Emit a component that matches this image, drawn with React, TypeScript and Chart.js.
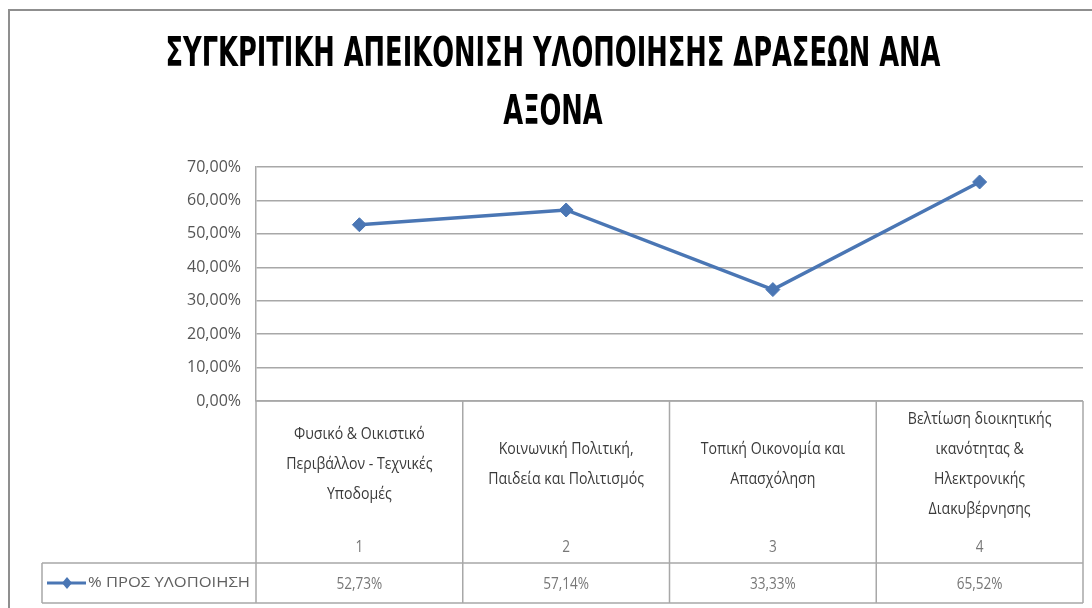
import React, { useEffect, useRef } from "react";
import { Chart, registerables } from "chart.js";

Chart.register(...registerables);

const TITLE_LINES = ["ΣΥΓΚΡΙΤΙΚΗ ΑΠΕΙΚΟΝΙΣΗ ΥΛΟΠΟΙΗΣΗΣ ΔΡΑΣΕΩΝ ΑΝΑ", "ΑΞΟΝΑ"];
const CATEGORY_NAMES: string[][] = [
  ["Φυσικό & Οικιστικό", "Περιβάλλον - Τεχνικές", "Υποδομές"],
  ["Κοινωνική Πολιτική,", "Παιδεία και Πολιτισμός"],
  ["Τοπική Οικονομία και", "Απασχόληση"],
  ["Βελτίωση διοικητικής", "ικανότητας &", "Ηλεκτρονικής", "Διακυβέρνησης"],
];
const CATEGORY_NUMBERS = ["1", "2", "3", "4"];
const SERIES_NAME = "% ΠΡΟΣ ΥΛΟΠΟΙΗΣΗ";
const VALUES = [52.73, 57.14, 33.33, 65.52];
const Y_MIN = 0;
const Y_MAX = 70;
const Y_STEP = 10;

const LINE_COLOR = "#4a76b4";
const GRID_COLOR = "#a8a8a8";
const FONT = "'Open Sans', 'Liberation Sans', sans-serif";

const fmt = (v: number) => v.toFixed(2).replace(".", ",") + "%";

function drawScaled(
  ctx: CanvasRenderingContext2D,
  text: string,
  x: number,
  y: number,
  font: string,
  color: string,
  sx: number,
  align: CanvasTextAlign = "center"
) {
  ctx.save();
  ctx.font = font;
  ctx.fillStyle = color;
  ctx.textBaseline = "middle";
  ctx.textAlign = align;
  ctx.translate(x, y);
  ctx.scale(sx, 1);
  ctx.fillText(text, 0, 0);
  ctx.restore();
}

const decorPlugin = {
  id: "decor",
  afterDraw(chart: any) {
    const ctx: CanvasRenderingContext2D = chart.ctx;
    const ca = chart.chartArea;
    const n = VALUES.length;
    const colW = (ca.right - ca.left) / n;
    const valTop = 563;
    const tableBottom = 603;
    const legendLeft = 42;

    // outer frame
    ctx.save();
    ctx.strokeStyle = "#8f8f8f";
    ctx.lineWidth = 2;
    ctx.beginPath();
    ctx.moveTo(9, 608);
    ctx.lineTo(9, 10);
    ctx.lineTo(1092, 10);
    ctx.stroke();
    ctx.restore();

    // title
    ctx.save();
    const titleFont = "bold 40px 'DejaVu Sans', 'Liberation Sans', sans-serif";
    ctx.font = titleFont;
    const w = ctx.measureText(TITLE_LINES[0]).width;
    const sx = 775 / w;
    ctx.restore();
    drawScaled(ctx, TITLE_LINES[0], 553, 56, titleFont, "#000", sx);
    drawScaled(ctx, TITLE_LINES[1], 553, 114, titleFont, "#000", sx);

    // table lines
    ctx.save();
    ctx.strokeStyle = GRID_COLOR;
    ctx.lineWidth = 1.5;
    ctx.beginPath();
    for (let i = 0; i <= n; i++) {
      const x = ca.left + i * colW;
      ctx.moveTo(x, ca.bottom);
      ctx.lineTo(x, tableBottom);
    }
    ctx.moveTo(ca.left, ca.bottom);
    ctx.lineTo(ca.right, ca.bottom);
    ctx.moveTo(legendLeft, valTop);
    ctx.lineTo(ca.right, valTop);
    ctx.moveTo(legendLeft, tableBottom);
    ctx.lineTo(ca.right, tableBottom);
    ctx.moveTo(legendLeft, valTop);
    ctx.lineTo(legendLeft, tableBottom);
    ctx.stroke();
    ctx.restore();

    // category labels
    const xs = chart.scales.x;
    const catFont = `17px ${FONT}`;
    for (let i = 0; i < n; i++) {
      const cx = xs.getPixelForTick(i);
      const lines = CATEGORY_NAMES[i];
      const lh = 30;
      const startY = 464 - ((lines.length - 1) * lh) / 2;
      lines.forEach((t, j) => drawScaled(ctx, t, cx, startY + j * lh, catFont, "#3a3a3a", 0.83));
      drawScaled(ctx, CATEGORY_NUMBERS[i], cx, 547, `17px ${FONT}`, "#777", 0.8);
      drawScaled(ctx, fmt(VALUES[i]), cx, 584, `17px ${FONT}`, "#777", 0.8);
    }

    // legend key in table
    ctx.save();
    ctx.strokeStyle = LINE_COLOR;
    ctx.fillStyle = LINE_COLOR;
    ctx.lineWidth = 3;
    ctx.beginPath();
    ctx.moveTo(47, 583);
    ctx.lineTo(86, 583);
    ctx.stroke();
    ctx.beginPath();
    ctx.moveTo(67, 577);
    ctx.lineTo(72, 583);
    ctx.lineTo(67, 589);
    ctx.lineTo(62, 583);
    ctx.closePath();
    ctx.fill();
    ctx.restore();
    ctx.save();
    const lf = `15px ${FONT}`;
    ctx.font = lf;
    const lw = ctx.measureText(SERIES_NAME).width;
    ctx.restore();
    drawScaled(ctx, SERIES_NAME, 88, 583, lf, "#606060", 162 / lw, "left");
  },
};

export default function App() {
  const ref = useRef<HTMLCanvasElement>(null);
  useEffect(() => {
    if (!ref.current) return;
    const chart = new Chart(ref.current, {
      type: "line",
      data: {
        labels: CATEGORY_NUMBERS,
        datasets: [
          {
            label: SERIES_NAME,
            data: VALUES,
            borderColor: LINE_COLOR,
            backgroundColor: LINE_COLOR,
            borderWidth: 3.5,
            pointStyle: "rectRot",
            pointRadius: 7,
            pointBorderWidth: 1,
            pointBackgroundColor: LINE_COLOR,
            pointBorderColor: LINE_COLOR,
            tension: 0,
          },
        ],
      },
      options: {
        responsive: false,
        animation: false,
        layout: { padding: { top: 167, right: 9, bottom: 207, left: 0 } },
        plugins: {
          legend: { display: false },
          title: { display: false },
          tooltip: { enabled: false },
        },
        scales: {
          x: {
            type: "category",
            offset: true,
            display: false,
            grid: { display: false },
          },
          y: {
            min: Y_MIN,
            max: Y_MAX,
            afterFit: (scale: any) => {
              scale.width = 256;
            },
            ticks: {
              stepSize: Y_STEP,
              padding: 15,
              color: "#555",
              font: { family: "'Open Sans', 'Liberation Sans', sans-serif", size: 16 },
              callback: (v: any) => fmt(Number(v)),
            },
            grid: { color: GRID_COLOR, lineWidth: 1.5, drawTicks: false },
            border: { display: true, color: GRID_COLOR, width: 1.5 },
          },
        },
      },
      plugins: [decorPlugin],
    });
    return () => chart.destroy();
  }, []);
  return (
    <div style={{ position: "absolute", left: 0, top: 0, width: 1092, height: 608, background: "#fff" }}>
      <canvas ref={ref} width={1092} height={608} style={{ display: "block" }} />
    </div>
  );
}
